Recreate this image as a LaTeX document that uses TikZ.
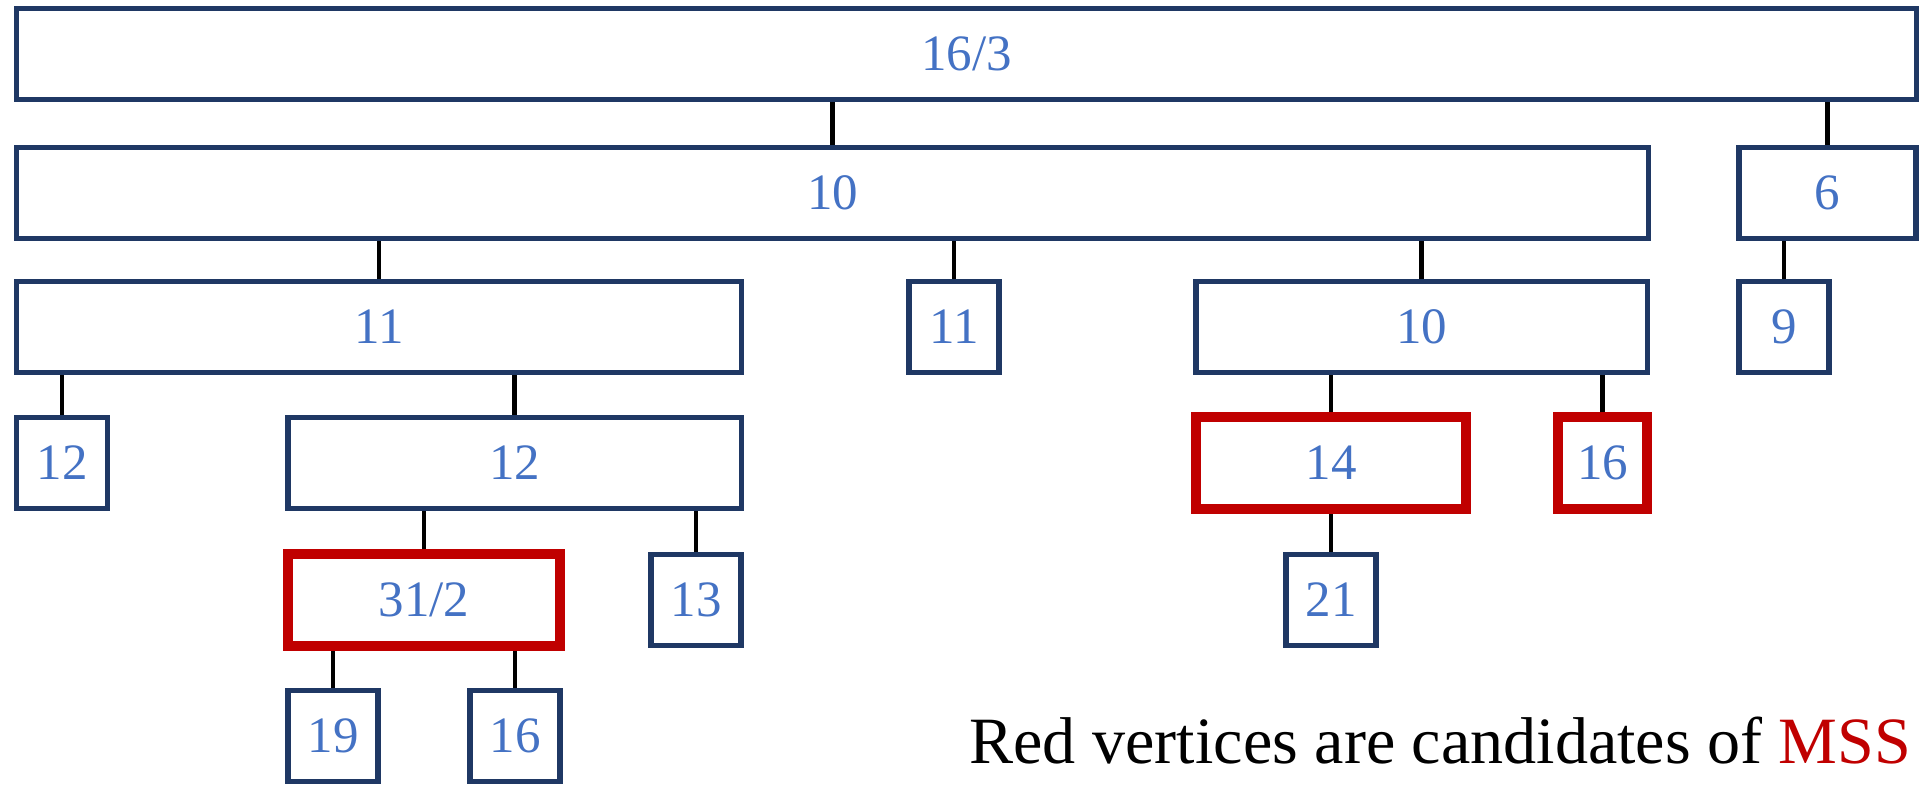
\documentclass[tikz,border=0pt]{standalone}
\usepackage{fontspec}
\setmainfont{Liberation Serif}
\definecolor{navy}{HTML}{1F3864}
\definecolor{numblue}{HTML}{4472C4}
\definecolor{mssred}{HTML}{C00000}
\tikzset{
  vert/.style={draw=navy,line width=1.5pt,text=numblue,fill=white,
    font=\fontsize{14.5}{16}\selectfont,minimum height=0.91cm,inner sep=0pt},
  cand/.style={vert,draw=mssred,line width=2.85pt},
  link/.style={line width=1.2pt,black}
}
\begin{document}
\begin{tikzpicture}[x=0.01cm,y=-0.01cm]
\useasboundingbox (0,0) rectangle (1921,785);
\node[vert,minimum width=18.99cm] (r) at (966.5,54) {16/3};
\node[vert,minimum width=16.31cm] (a) at (832.5,193) {10};
\node[vert,minimum width=1.77cm] (b) at (1827.5,193) {6};
\node[vert,minimum width=7.24cm] (aa) at (379,327) {11};
\node[vert,minimum width=0.9cm] (ab) at (954,327) {11};
\node[vert,minimum width=4.51cm] (ac) at (1421.5,327) {10};
\node[vert,minimum width=0.9cm] (ba) at (1784,327) {9};
\node[vert,minimum width=0.91cm] (aaa) at (62,463) {12};
\node[vert,minimum width=4.53cm] (aab) at (514.5,463) {12};
\node[cand,minimum width=2.70cm] (aca) at (1331,463) {14};
\node[cand,minimum width=0.89cm] (acb) at (1602.5,463) {16};
\node[cand,minimum width=2.72cm] (aaba) at (424,600) {31/2};
\node[vert,minimum width=0.9cm] (aabb) at (696,600) {13};
\node[vert,minimum width=0.9cm] (acaa) at (1331,600) {21};
\node[vert,minimum width=0.9cm] (aabaa) at (333,736) {19};
\node[vert,minimum width=0.9cm] (aabab) at (515,736) {16};
\draw[link] (a.north) -- (a.north |- r.south);
\draw[link] (b.north) -- (b.north |- r.south);
\draw[link] (aa.north) -- (aa.north |- a.south);
\draw[link] (ab.north) -- (ab.north |- a.south);
\draw[link] (ac.north) -- (ac.north |- a.south);
\draw[link] (ba.north) -- (ba.north |- b.south);
\draw[link] (aaa.north) -- (aaa.north |- aa.south);
\draw[link] (aab.north) -- (aab.north |- aa.south);
\draw[link] (aca.north) -- (aca.north |- ac.south);
\draw[link] (acb.north) -- (acb.north |- ac.south);
\draw[link] (aaba.north) -- (aaba.north |- aab.south);
\draw[link] (aabb.north) -- (aabb.north |- aab.south);
\draw[link] (acaa.north) -- (acaa.north |- aca.south);
\draw[link] (aabaa.north) -- (aabaa.north |- aaba.south);
\draw[link] (aabab.north) -- (aabab.north |- aaba.south);
\node[anchor=base east,inner sep=0pt,font=\fontsize{18.8}{22}\selectfont] (note) at (1912,763)
  {Red vertices are candidates of \textcolor{mssred}{MSS}};
\end{tikzpicture}
\end{document}
